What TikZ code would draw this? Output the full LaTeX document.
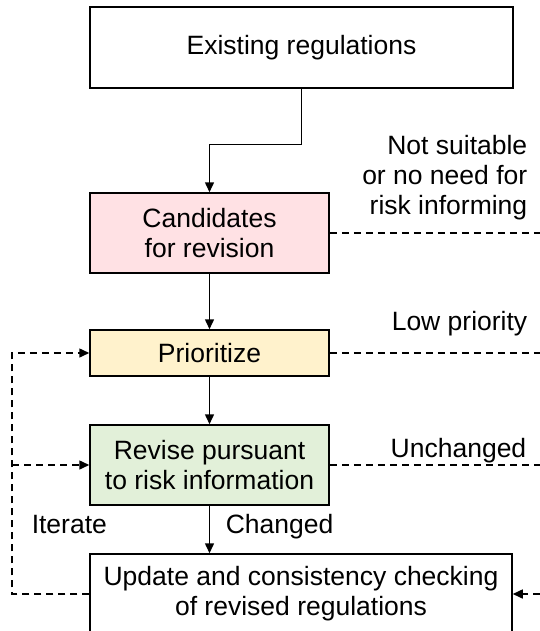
\documentclass[tikz,border=0pt]{standalone}
\usepackage{fontspec}
\setmainfont{Liberation Sans}
\usetikzlibrary{arrows.meta}
\definecolor{candpink}{HTML}{FFE1E4}
\definecolor{priolight}{HTML}{FFF2CC}
\definecolor{revgreen}{HTML}{E2F0D9}
\tikzset{
  box/.style={draw, inner sep=0pt, align=center},
  lbl/.style={inner sep=0pt},
  dashline/.style={dash pattern=on 7pt off 5pt},
  tip/.style={-{Triangle[length=10pt,width=9pt]}}
}
\begin{document}
\begin{tikzpicture}[x=1pt, y=-1pt, line width=1.5pt,
    font=\fontsize{26.5}{30}\selectfont]
  \useasboundingbox (0,0) rectangle (540,631);
  \draw
    (301.5,47.5) node[box, minimum width=423pt, minimum height=81pt] (exist) {Existing regulations}
    (209.5,233) node[box, fill=candpink, minimum width=239pt, minimum height=80pt] (cand) {Candidates\\for revision}
    (209.5,353) node[box, fill=priolight, minimum width=239pt, minimum height=46pt] (prio) {Prioritize}
    (209.5,465) node[box, fill=revgreen, minimum width=239pt, minimum height=80pt] (revise) {Revise pursuant\\to risk information}
    (301,594) node[box, minimum width=422pt, minimum height=80pt] (update) {Update and consistency checking\\of revised regulations};
  % side labels
  \draw
    (528,135) node[lbl, anchor=north east, align=right] (nosuit) {Not suitable\\or no need for\\risk informing}
    (528,330) node[lbl, anchor=base east] (low) {Low priority}
    (527,457) node[lbl, anchor=base east] (unch) {Unchanged}
    (31,533) node[lbl, anchor=base west] (iter) {Iterate}
    (225,533) node[lbl, anchor=base west] (chg) {Changed};
  \coordinate (rim) at (540,0);
  \coordinate (loop) at (12,0);
  \begin{scope}[tip]
    \draw (exist.south) -- ++(0,56) -| (cand.north);
    \draw (cand) to (prio);
    \draw (prio) to (revise);
    \draw (revise.south) -- (revise.south |- update.north);
  \end{scope}
  \begin{scope}[dashline]
    \draw (cand.east) -- (cand.east -| rim);
    \draw (prio.east) -- (prio.east -| rim);
    \draw (revise.east) -- (revise.east -| rim);
    \draw[tip] (update.east -| rim) -- (update.east);
    \draw[tip] (update.west) -- (update.west -| loop) |- (prio.west);
    \draw[tip] (revise.west -| loop) -- (revise.west);
  \end{scope}
\end{tikzpicture}
\end{document}
